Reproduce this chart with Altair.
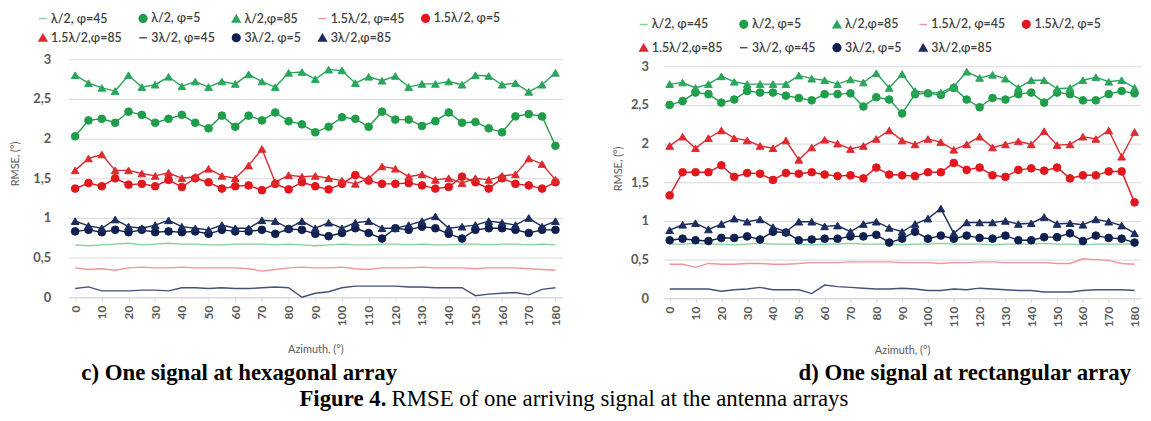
import altair as alt
import pandas as pd

azimuth = list(range(0, 181, 5))
x_ticks = list(range(0, 181, 10))
y_ticks = [0, 0.5, 1, 1.5, 2, 2.5, 3]

series_names = ["λ/2, φ=45", "λ/2, φ=5", "λ/2,φ=85",
                "1.5λ/2, φ=45", "1.5λ/2, φ=5", "1.5λ/2,φ=85",
                "3λ/2, φ=45", "3λ/2, φ=5", "3λ/2,φ=85"]
series_colors = ["#86d09a", "#1f9d4b", "#2aa55c",
                 "#f1959a", "#e3161d", "#dd2a30",
                 "#44527a", "#0f1f4f", "#1b2c5e"]
series_shapes = ["stroke", "circle", "triangle-up",
                 "stroke", "circle", "triangle-up",
                 "stroke", "circle", "triangle-up"]

# ---- panel c) hexagonal array ----
c_g45 = [0.66, 0.65, 0.66, 0.67, 0.68, 0.66, 0.67, 0.68, 0.67, 0.67, 0.66, 0.66, 0.67, 0.67, 0.67, 0.66, 0.67, 0.66, 0.65,
         0.66, 0.67, 0.66, 0.66, 0.67, 0.67, 0.66, 0.67, 0.66, 0.66, 0.67, 0.67, 0.66, 0.67, 0.67, 0.66, 0.67, 0.66]
c_g5 = [2.03, 2.23, 2.25, 2.20, 2.34, 2.30, 2.20, 2.25, 2.30, 2.20, 2.13, 2.29, 2.15, 2.29, 2.23, 2.33, 2.22, 2.18, 2.08,
        2.15, 2.27, 2.25, 2.15, 2.34, 2.24, 2.24, 2.16, 2.22, 2.33, 2.20, 2.21, 2.13, 2.08, 2.28, 2.31, 2.28, 1.91]
c_g85 = [2.80, 2.70, 2.64, 2.60, 2.80, 2.65, 2.68, 2.78, 2.66, 2.72, 2.65, 2.72, 2.69, 2.81, 2.72, 2.65, 2.83, 2.84, 2.75,
         2.87, 2.86, 2.70, 2.78, 2.73, 2.79, 2.65, 2.69, 2.69, 2.72, 2.68, 2.80, 2.79, 2.68, 2.70, 2.59, 2.68, 2.83]
c_r45 = [0.37, 0.35, 0.36, 0.34, 0.37, 0.38, 0.37, 0.37, 0.38, 0.37, 0.37, 0.37, 0.37, 0.36, 0.33, 0.35, 0.37, 0.38, 0.37,
         0.37, 0.38, 0.36, 0.35, 0.37, 0.37, 0.37, 0.38, 0.37, 0.37, 0.37, 0.36, 0.37, 0.37, 0.37, 0.36, 0.35, 0.34]
c_r5 = [1.37, 1.44, 1.40, 1.50, 1.42, 1.43, 1.40, 1.48, 1.39, 1.50, 1.45, 1.37, 1.40, 1.41, 1.35, 1.43, 1.36, 1.45, 1.40,
        1.36, 1.43, 1.54, 1.47, 1.43, 1.43, 1.44, 1.41, 1.37, 1.39, 1.52, 1.45, 1.37, 1.50, 1.43, 1.41, 1.37, 1.45]
c_r85 = [1.60, 1.75, 1.80, 1.60, 1.60, 1.56, 1.53, 1.57, 1.50, 1.52, 1.62, 1.53, 1.50, 1.66, 1.87, 1.45, 1.54, 1.52, 1.53,
         1.50, 1.47, 1.43, 1.50, 1.65, 1.62, 1.52, 1.55, 1.48, 1.50, 1.44, 1.50, 1.48, 1.53, 1.55, 1.75, 1.68, 1.48]
c_n45 = [0.11, 0.13, 0.08, 0.08, 0.08, 0.09, 0.09, 0.08, 0.12, 0.12, 0.11, 0.12, 0.11, 0.11, 0.12, 0.13, 0.12, 0.00, 0.05,
         0.07, 0.12, 0.14, 0.14, 0.14, 0.14, 0.13, 0.13, 0.12, 0.12, 0.12, 0.02, 0.04, 0.05, 0.06, 0.03, 0.10, 0.12]
c_n5 = [0.83, 0.85, 0.82, 0.85, 0.82, 0.85, 0.82, 0.83, 0.82, 0.83, 0.80, 0.85, 0.83, 0.83, 0.85, 0.80, 0.86, 0.85, 0.80,
        0.77, 0.81, 0.87, 0.81, 0.74, 0.87, 0.85, 0.89, 0.87, 0.80, 0.74, 0.85, 0.87, 0.87, 0.85, 0.81, 0.85, 0.85]
c_n85 = [0.96, 0.90, 0.87, 0.98, 0.89, 0.87, 0.91, 0.97, 0.89, 0.87, 0.85, 0.91, 0.87, 0.87, 0.97, 0.96, 0.87, 0.96, 0.87,
         0.94, 0.87, 0.94, 0.96, 0.87, 0.87, 0.91, 0.96, 1.02, 0.87, 0.89, 0.91, 0.96, 0.94, 0.91, 1.00, 0.89, 0.96]

# ---- panel d) rectangular array ----
d_g45 = [0.70, 0.70, 0.71, 0.70, 0.70, 0.69, 0.70, 0.71, 0.70, 0.70, 0.70, 0.69, 0.70, 0.70, 0.71, 0.70, 0.70, 0.70, 0.69,
         0.70, 0.70, 0.71, 0.70, 0.70, 0.70, 0.69, 0.70, 0.70, 0.70, 0.71, 0.70, 0.70, 0.69, 0.70, 0.70, 0.70, 0.70]
d_g5 = [2.50, 2.55, 2.66, 2.64, 2.53, 2.57, 2.68, 2.66, 2.66, 2.62, 2.59, 2.56, 2.64, 2.64, 2.65, 2.48, 2.60, 2.57, 2.39,
        2.64, 2.65, 2.63, 2.72, 2.57, 2.47, 2.59, 2.57, 2.64, 2.66, 2.53, 2.66, 2.64, 2.56, 2.56, 2.64, 2.68, 2.65]
d_g85 = [2.77, 2.79, 2.72, 2.77, 2.87, 2.80, 2.77, 2.77, 2.77, 2.77, 2.88, 2.84, 2.82, 2.77, 2.83, 2.79, 2.91, 2.72, 2.90,
         2.68, 2.66, 2.66, 2.74, 2.93, 2.85, 2.89, 2.84, 2.72, 2.82, 2.82, 2.71, 2.72, 2.82, 2.86, 2.80, 2.82, 2.72]
d_r45 = [0.44, 0.44, 0.40, 0.45, 0.44, 0.44, 0.45, 0.45, 0.44, 0.44, 0.45, 0.46, 0.46, 0.46, 0.47, 0.47, 0.47, 0.47, 0.46,
         0.46, 0.46, 0.45, 0.46, 0.46, 0.47, 0.47, 0.46, 0.46, 0.46, 0.46, 0.45, 0.45, 0.51, 0.50, 0.49, 0.45, 0.44]
d_r5 = [1.33, 1.63, 1.63, 1.63, 1.72, 1.57, 1.62, 1.61, 1.53, 1.62, 1.61, 1.63, 1.60, 1.58, 1.59, 1.55, 1.69, 1.60, 1.59,
        1.58, 1.63, 1.63, 1.75, 1.66, 1.69, 1.59, 1.57, 1.66, 1.68, 1.65, 1.69, 1.55, 1.59, 1.59, 1.64, 1.64, 1.24]
d_r85 = [1.97, 2.09, 1.94, 2.07, 2.17, 2.07, 2.04, 1.97, 1.94, 2.04, 1.79, 1.95, 2.05, 2.00, 1.93, 1.97, 2.06, 2.17, 2.04,
         1.99, 2.06, 2.02, 1.92, 1.99, 2.09, 1.95, 1.99, 2.03, 1.99, 2.16, 1.98, 1.99, 2.09, 2.06, 2.17, 1.83, 2.15]
d_n45 = [0.12, 0.12, 0.12, 0.12, 0.09, 0.11, 0.12, 0.14, 0.11, 0.11, 0.11, 0.06, 0.17, 0.15, 0.14, 0.13, 0.12, 0.12, 0.13,
         0.12, 0.10, 0.10, 0.12, 0.11, 0.13, 0.12, 0.11, 0.10, 0.10, 0.08, 0.08, 0.08, 0.10, 0.11, 0.11, 0.11, 0.10]
d_n5 = [0.75, 0.77, 0.75, 0.74, 0.78, 0.78, 0.80, 0.76, 0.86, 0.85, 0.75, 0.76, 0.77, 0.77, 0.80, 0.80, 0.82, 0.72, 0.77,
        0.86, 0.77, 0.81, 0.77, 0.81, 0.78, 0.77, 0.81, 0.75, 0.75, 0.79, 0.79, 0.84, 0.74, 0.81, 0.78, 0.77, 0.72]
d_n85 = [0.88, 0.95, 0.97, 0.89, 0.96, 1.03, 0.99, 1.02, 0.92, 0.86, 0.99, 0.99, 0.93, 0.94, 0.86, 0.96, 0.99, 0.91, 0.86,
         0.96, 1.03, 1.16, 0.84, 0.98, 0.98, 0.98, 1.00, 0.96, 0.97, 1.05, 0.96, 0.97, 0.95, 1.02, 0.99, 0.94, 0.84]

caption_c = "c) One signal at hexagonal array"
caption_d = "d) One signal at rectangular array"
figure_label = "Figure 4."
figure_text = "RMSE of one arriving signal at the antenna arrays"


def long_df(arrays):
    rows = []
    for name, vals in zip(series_names, arrays):
        for a, v in zip(azimuth, vals):
            rows.append({"az": a, "value": v, "series": name})
    return pd.DataFrame(rows)


df_c = long_df([c_g45, c_g5, c_g85, c_r45, c_r5, c_r85, c_n45, c_n5, c_n85])
df_d = long_df([d_g45, d_g5, d_g85, d_r45, d_r5, d_r85, d_n45, d_n5, d_n85])

marker_series = [s for s, sh in zip(series_names, series_shapes) if sh != "stroke"]
color_scale = alt.Scale(domain=series_names, range=series_colors)
shape_scale = alt.Scale(domain=series_names, range=series_shapes)

FONT = "Lato"
GRAY = "#595959"


def make_legend(lx, ly, row_pad):
    return alt.Legend(title=None, orient="none", legendX=lx, legendY=ly, columns=5,
                      direction="horizontal",
                      labelFont=FONT, labelFontSize=12.5, labelFontWeight=600, labelColor="#404040",
                      symbolSize=60, symbolStrokeWidth=1.5, columnPadding=14,
                      rowPadding=row_pad, labelLimit=300, labelOffset=2)


def text_layer(txt, x, y, align, size=23, weight="bold"):
    return alt.Chart(pd.DataFrame({"t": [txt]})).mark_text(
        font="Liberation Serif", fontSize=size, fontWeight=weight, align=align,
        baseline="middle", color="black").encode(text="t:N", x=alt.value(x), y=alt.value(y))


def panel(df, width, height, ymax, lg, ytx, yty, ylp, extras):
    x = alt.X("az:O", scale=alt.Scale(domain=azimuth, type="point", padding=0.5),
              axis=alt.Axis(values=x_ticks, labelAngle=270, labelFont=FONT, labelFontSize=12,
                            labelFontWeight="bold", labelColor=GRAY, labelPadding=4,
                            domainColor="#d9d9d9", tickColor="#d9d9d9", tickSize=4, grid=False,
                            title="Azimuth, (°)", titleFont=FONT, titleFontSize=11,
                            titleFontWeight="normal", titleColor=GRAY, titlePadding=18))
    y = alt.Y("value:Q", scale=alt.Scale(domain=[0, ymax], nice=False, zero=True),
              axis=alt.Axis(values=y_ticks, labelExpr="replace(format(datum.value, '~g'), '.', ',')",
                            labelFont=FONT, labelFontSize=13, labelFontWeight="bold", labelColor=GRAY,
                            labelPadding=ylp, domain=False, ticks=False, grid=True, gridColor="#d9d9d9",
                            gridWidth=1, title="RMSE, (°)", titleFont=FONT, titleFontSize=11,
                            titleFontWeight="normal", titleColor=GRAY, titleX=ytx, titleY=yty))
    base = alt.Chart(df)
    lines = base.mark_line(strokeWidth=1.4).encode(
        x=x, y=y, stroke=alt.Stroke("series:N", scale=color_scale, legend=lg), detail="series:N")
    points = base.transform_filter(
        alt.FieldOneOfPredicate(field="series", oneOf=marker_series)
    ).mark_point(filled=True, size=60, opacity=1, strokeWidth=1).encode(
        x=x, y=y,
        fill=alt.Fill("series:N", scale=color_scale, legend=lg),
        stroke=alt.Stroke("series:N", scale=color_scale, legend=lg),
        shape=alt.Shape("series:N", scale=shape_scale, legend=lg))
    return alt.layer(lines, points, *extras).properties(width=width, height=height)


chart_c = panel(df_c, 498, 240, 3.0, make_legend(-32, -48, 5), -48, 105, 18,
                [text_layer(caption_c, 13, 316, "left"),
                 text_layer(figure_label, 233, 343, "left"),
                 text_layer(figure_text, 326, 343, "left", weight="normal")])
chart_d = panel(df_d, 482, 241, 3.09, make_legend(-26, -42, 9), -40, 110, 15,
                [text_layer(caption_d, 472, 316, "right")])

chart = alt.hconcat(chart_c, chart_d, spacing=102, bounds="flush").resolve_scale(
    fill="independent", stroke="independent", shape="independent"
).configure_view(stroke=None).properties(padding=2, background="white")

chart.save("out.html", embed_options={"renderer": "svg", "actions": False})
